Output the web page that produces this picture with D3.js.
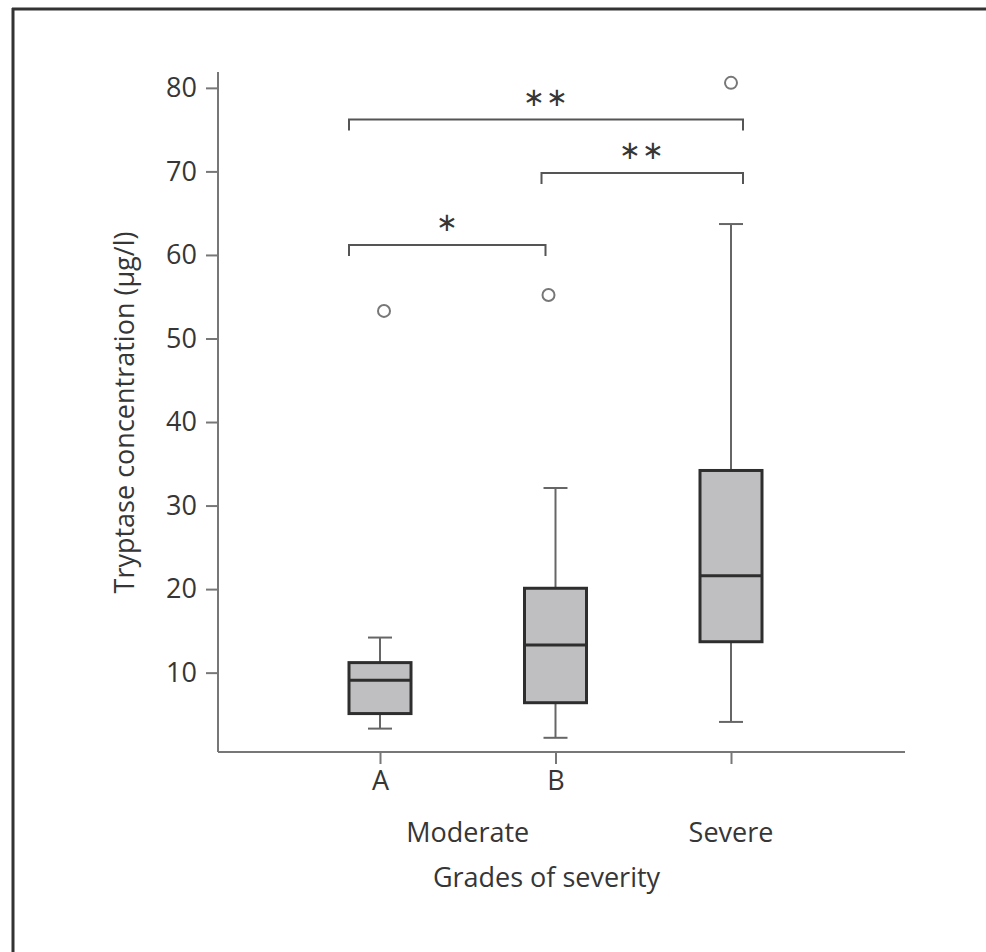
<!DOCTYPE html>
<html>
<head>
<meta charset="utf-8">
<script src="https://cdn.jsdelivr.net/npm/d3@7"></script>
<style>
  body { margin: 0; background: #fff; }
  svg { display: block; }
  text { font-family: 'Open Sans', sans-serif; fill: #363636; }
</style>
</head>
<body>
<div id="chart"></div>
<script>
// categories and their tick labels
const categories = ['A', 'B', 'Severe'];
const tickLabels = ['A', 'B', ''];
const groups = [
  { name: 'Moderate', members: ['A', 'B'] },
  { name: 'Severe', members: ['Severe'] },
];
const yTicks = [10, 20, 30, 40, 50, 60, 70, 80];

// box statistics per category (µg/l)
const whiskerLow = [3.3, 2.2, 4.1];
const q1 = [5.1, 6.4, 13.7];
const median = [9.1, 13.3, 21.6];
const q3 = [11.2, 20.1, 34.2];
const whiskerHigh = [14.2, 32.1, 63.7];
const outliers = [[53.3], [55.2], [80.6]];

// significance brackets
const brackets = [
  { from: 'A', to: 'Severe', level: 76.2, label: '∗∗' },
  { from: 'B', to: 'Severe', level: 69.8, label: '∗∗' },
  { from: 'A', to: 'B', level: 61.2, label: '∗' },
];

const width = 986;
const height = 952;
const margin = { top: 72, right: 81, bottom: 200, left: 218 };
const innerW = width - margin.left - margin.right;
const innerH = height - margin.top - margin.bottom;
const fontSize = 27;

const svg = d3
  .select('#chart')
  .append('svg')
  .attr('width', width)
  .attr('height', height);

// frame (top and left edges only)
svg.append('line')
  .attr('x1', 12).attr('x2', width).attr('y1', 9).attr('y2', 9)
  .attr('stroke', '#333').attr('stroke-width', 3);
svg.append('line')
  .attr('x1', 13).attr('x2', 13).attr('y1', 8).attr('y2', height)
  .attr('stroke', '#333').attr('stroke-width', 3);

const g = svg.append('g')
  .attr('transform', `translate(${margin.left},${margin.top})`);

const x = d3.scalePoint().domain(categories).range([162, 513]);
const y = d3.scaleLinear().domain([0.5, 81.9]).range([innerH, 0]);

// axes
const yAxis = g.append('g')
  .call(d3.axisLeft(y).tickValues(yTicks).tickSize(12).tickPadding(9));
const xAxis = g.append('g')
  .attr('transform', `translate(0,${innerH})`)
  .call(d3.axisBottom(x).tickSize(12).tickPadding(7).tickFormat((d, i) => tickLabels[i]));

[yAxis, xAxis].forEach((ax) => {
  ax.select('.domain').attr('stroke', '#777').attr('stroke-width', 2);
  ax.selectAll('.tick line').attr('stroke', '#777').attr('stroke-width', 2);
  ax.selectAll('.tick text')
    .attr('font-size', fontSize)
    .attr('font-family', "'Open Sans', sans-serif")
    .attr('fill', '#363636');
});
xAxis.select('.domain').attr('d', `M0,0H${innerW}`);
yAxis.select('.domain').attr('d', `M0,0V${innerH}`);

// group labels under the ticks
g.selectAll('.group-label')
  .data(groups)
  .enter()
  .append('text')
  .attr('class', 'group-label')
  .attr('x', (d) => d3.mean(d.members, (m) => x(m)))
  .attr('y', innerH + 90)
  .attr('text-anchor', 'middle')
  .attr('font-size', fontSize)
  .text((d) => d.name);

g.append('text')
  .attr('x', (x('A') + x('Severe')) / 2 - 9)
  .attr('y', innerH + 135)
  .attr('text-anchor', 'middle')
  .attr('font-size', fontSize)
  .text('Grades of severity');

g.append('text')
  .attr('transform', `translate(${134 - margin.left},${412.5 - margin.top}) rotate(-90)`)
  .attr('text-anchor', 'middle')
  .attr('font-size', fontSize)
  .text('Tryptase concentration (µg/l)');

// box plots
const boxW = 62;
const capW = 24;
const boxes = g.selectAll('.box')
  .data(categories)
  .enter()
  .append('g')
  .attr('class', 'box')
  .attr('transform', (d) => `translate(${x(d)},0)`);

boxes.append('line')
  .attr('y1', (d, i) => y(whiskerHigh[i]))
  .attr('y2', (d, i) => y(q3[i]))
  .attr('stroke', '#666').attr('stroke-width', 2);
boxes.append('line')
  .attr('y1', (d, i) => y(q1[i]))
  .attr('y2', (d, i) => y(whiskerLow[i]))
  .attr('stroke', '#666').attr('stroke-width', 2);
boxes.append('line')
  .attr('x1', -capW / 2).attr('x2', capW / 2)
  .attr('y1', (d, i) => y(whiskerHigh[i]))
  .attr('y2', (d, i) => y(whiskerHigh[i]))
  .attr('stroke', '#666').attr('stroke-width', 2);
boxes.append('line')
  .attr('x1', -capW / 2).attr('x2', capW / 2)
  .attr('y1', (d, i) => y(whiskerLow[i]))
  .attr('y2', (d, i) => y(whiskerLow[i]))
  .attr('stroke', '#666').attr('stroke-width', 2);

boxes.append('rect')
  .attr('x', -boxW / 2)
  .attr('width', boxW)
  .attr('y', (d, i) => y(q3[i]))
  .attr('height', (d, i) => y(q1[i]) - y(q3[i]))
  .attr('fill', '#bfbfc1')
  .attr('stroke', '#2e2e2e')
  .attr('stroke-width', 3);

boxes.append('line')
  .attr('x1', -boxW / 2).attr('x2', boxW / 2)
  .attr('y1', (d, i) => y(median[i]))
  .attr('y2', (d, i) => y(median[i]))
  .attr('stroke', '#2e2e2e').attr('stroke-width', 3);

// outliers sit slightly off-centre in the original
const outlierShift = [4, -7, 0];
boxes.each(function (d, i) {
  d3.select(this)
    .selectAll('circle')
    .data(outliers[i])
    .enter()
    .append('circle')
    .attr('cx', outlierShift[i])
    .attr('cy', (v) => y(v))
    .attr('r', 6)
    .attr('fill', '#fff')
    .attr('stroke', '#777')
    .attr('stroke-width', 2);
});

// significance brackets
const endOffset = { A: -31, B: -10, Severe: 12 };
const legH = 11;
brackets.forEach((b) => {
  const x1 = x(b.from) + endOffset[b.from] + (b.from === 'B' ? -4 : 0);
  const x2 = x(b.to) + endOffset[b.to];
  const yy = y(b.level);
  g.append('path')
    .attr('d', `M${x1},${yy + legH}V${yy}H${x2}V${yy + legH}`)
    .attr('fill', 'none')
    .attr('stroke', '#555')
    .attr('stroke-width', 2);
  g.append('text')
    .attr('x', (x1 + x2) / 2)
    .attr('y', yy - 14)
    .attr('text-anchor', 'middle')
    .attr('font-family', 'DejaVu Sans, sans-serif')
    .attr('font-size', 26)
    .attr('letter-spacing', 1)
    .text(b.label);
});
</script>
</body>
</html>
